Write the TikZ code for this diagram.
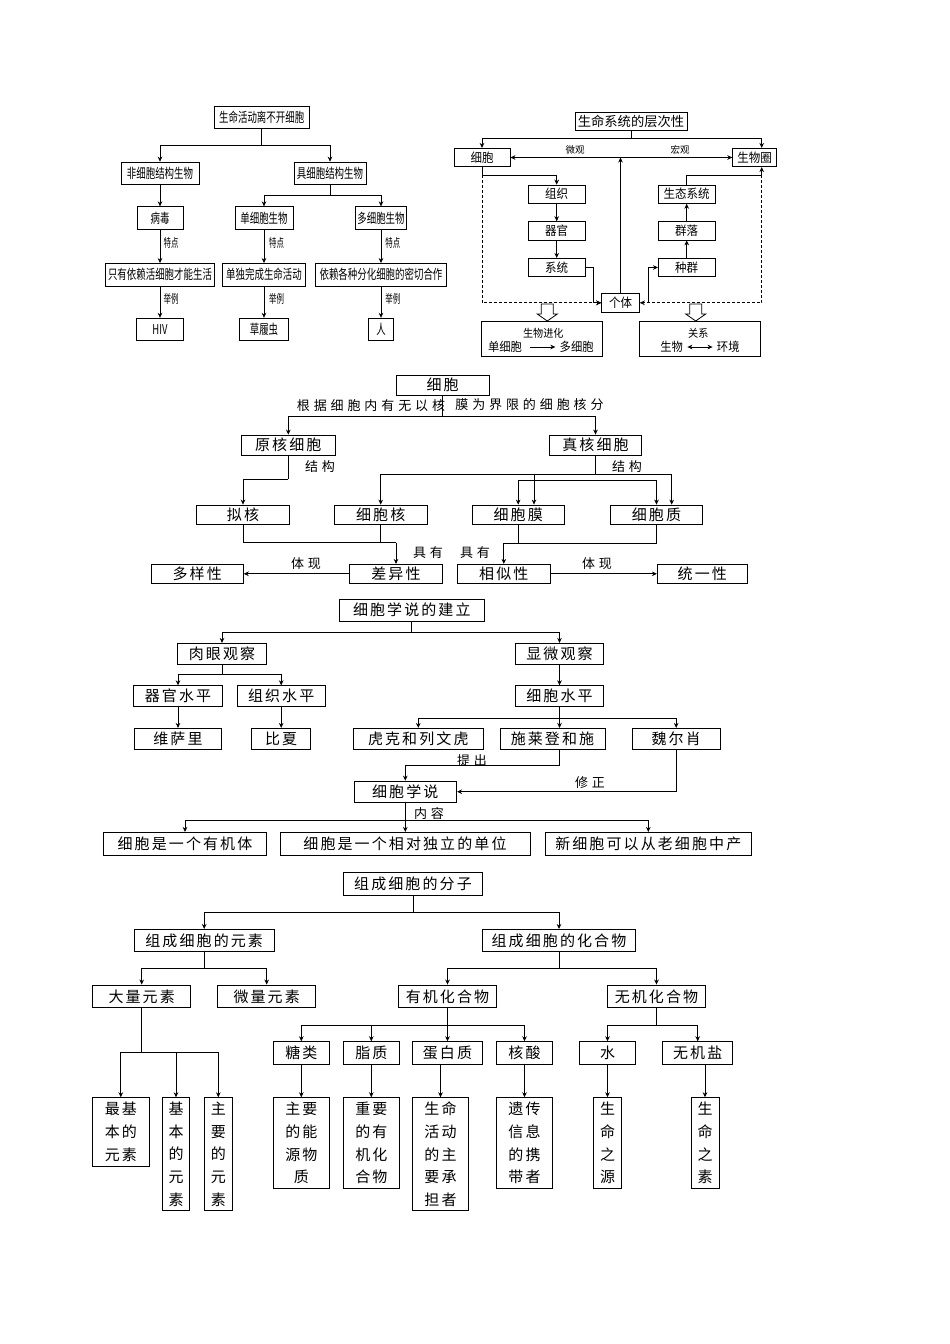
\documentclass[tikz,border=0pt]{standalone}
\usepackage{fontspec}
\setmainfont{Noto Sans CJK SC}
\newfontfamily\cjk{Noto Sans CJK SC}
\newfontfamily\cjknarrow[FakeStretch=0.7]{Noto Sans CJK SC}
\newfontfamily\cjkvnarrow[FakeStretch=0.62]{Noto Sans CJK SC}
\newfontfamily\cjkslight[FakeStretch=0.92]{Noto Sans CJK SC}
\newfontfamily\cjksp[LetterSpace=14]{Noto Sans CJK SC}
\newfontfamily\cjklab[LetterSpace=30]{Noto Sans CJK SC}
\usetikzlibrary{arrows.meta}
\begin{document}
\begin{tikzpicture}[x=1pt,y=-1pt,line width=0.8pt,
  box/.style={draw,fill=white,inner sep=0pt},
  sA/.style={box,font=\cjknarrow\fontsize{13.5}{15}\selectfont,minimum height=22.5},
  sB/.style={box,font=\cjkslight\fontsize{12.5}{14}\selectfont,minimum height=18.3},
  sC/.style={box,font=\cjksp\fontsize{15}{22.7}\selectfont,align=center},
  lA/.style={inner sep=0pt,font=\cjkvnarrow\fontsize{12}{13}\selectfont},
  lB/.style={inner sep=0pt,font=\cjk\fontsize{9.5}{11}\selectfont},
  lC/.style={inner sep=0pt,font=\cjklab\fontsize{13}{15}\selectfont},
  tB/.style={inner sep=0pt,font=\cjkslight\fontsize{12.3}{13}\selectfont},
  arr/.style={-{Stealth[length=5pt,width=4.6pt,inset=1.6pt]}},
  arr2/.style={{Stealth[length=5pt,width=4.6pt,inset=1.6pt]}-{Stealth[length=5pt,width=4.6pt,inset=1.6pt]}},
  dsh/.style={dash pattern=on 3pt off 2pt}]
\fill[white] (0,0) rectangle (950,1344);
\useasboundingbox (0,0) rectangle (950,1344);

% ===== Section 1 (top-left) =====
\node[sA,minimum width=95,minimum height=22] (A0) at (261.7,117) {生命活动离不开细胞};
\node[sA,minimum width=78] (A1) at (160,173.3) {非细胞结构生物};
\node[sA,minimum width=72] (A2) at (330,173.3) {具细胞结构生物};
\node[sA,minimum width=46] (A3) at (160,218) {病毒};
\node[sA,minimum width=58] (A4) at (264,218) {单细胞生物};
\node[sA,minimum width=51] (A5) at (381,218) {多细胞生物};
\node[sA,minimum width=109] (A6) at (160,274.7) {只有依赖活细胞才能生活};
\node[sA,minimum width=83] (A7) at (264,274.7) {单独完成生命活动};
\node[sA,minimum width=130.7] (A8) at (381,274.7) {依赖各种分化细胞的密切合作};
\node[sA,minimum width=47,minimum height=22] (A9) at (160,329.2) {HIV};
\node[sA,minimum width=49,minimum height=22] (A10) at (264,329.2) {草履虫};
\node[sA,minimum width=25,minimum height=22] (A11) at (381,329.2) {人};
\coordinate (jA0) at (261.7,145);
\draw (A0) -- (jA0);
\draw[arr] (jA0) -| (A1);
\draw[arr] (jA0) -| (A2);
\draw[arr] (A1) -- (A3);
\coordinate (jA1) at (330,195);
\draw (A2) -- (jA1);
\draw[arr] (jA1) -| (A4);
\draw[arr] (jA1) -| (A5);
\draw[arr] (A3) -- (A6); \draw[arr] (A6) -- (A9);
\draw[arr] (A4) -- (A7); \draw[arr] (A7) -- (A10);
\draw[arr] (A5) -- (A8); \draw[arr] (A8) -- (A11);
\node[lA] (tA1) at (171,243.3) {特点};
\node[lA] (tA2) at (276.5,243.3) {特点};
\node[lA] (tA3) at (392.8,243.3) {特点};
\node[lA] (tA4) at (171,299.3) {举例};
\node[lA] (tA5) at (276.5,299.3) {举例};
\node[lA] (tA6) at (392.8,299.3) {举例};

% ===== Section 2 (top-right) =====
\node[sB,minimum width=112,minimum height=18,font=\cjk\fontsize{13.3}{14}\selectfont] (B0) at (631,121.2) {生命系统的层次性};
\node[sB,minimum width=56] (B1) at (482,157.5) {细胞};
\node[sB,minimum width=44] (B2) at (754.7,157.5) {生物圈};
\node[sB,minimum width=56.7] (B3) at (556.7,194.2) {组织};
\node[sB,minimum width=56.7] (B4) at (556.7,230.8) {器官};
\node[sB,minimum width=56.7] (B5) at (556.7,267.5) {系统};
\node[sB,minimum width=37.7,minimum height=19] (B6) at (620.5,302.8) {个体};
\node[sB,minimum width=56.7] (B7) at (686.7,194.2) {生态系统};
\node[sB,minimum width=56.7] (B8) at (686.7,230.8) {群落};
\node[sB,minimum width=56.7] (B9) at (686.7,267.5) {种群};
\node[box,minimum width=121,minimum height=35.7] (B10) at (542.2,338.8) {};
\node[box,minimum width=120.7,minimum height=35.7] (B11) at (699.7,338.8) {};
\node[lB,font=\cjkslight\fontsize{11}{12}\selectfont] (B10t) at (543.3,333.5) {生物进化};
\node[tB] (B10a) at (505,347) {单细胞};
\node[tB] (B10b) at (576.7,347) {多细胞};
\draw[arr,shorten <=7.5pt,shorten >=4pt,line width=0.7pt] (B10a) -- (B10b);
\node[lB,font=\cjkslight\fontsize{11}{12}\selectfont] (B11t) at (698.3,333.5) {关系};
\node[tB] (B11a) at (671.7,347) {生物};
\node[tB] (B11b) at (728.3,347) {环境};
\draw[arr2,shorten <=4pt,shorten >=4pt,line width=0.7pt] (B11a) -- (B11b);
\coordinate (jB0) at (631,138.3);
\draw (B0) -- (jB0);
\draw[arr] (jB0) -| (B1);
\draw[arr] (jB0) -| ([xshift=7pt]B2.north);
\draw[arr2] (B1) -- (B2);
\node[lB] (mB1) at (575,149.5) {微观};
\node[lB] (mB2) at (680,149.5) {宏观};
\draw[arr] (B6.north) -- (B6.north |- B1.east);
\coordinate (cl) at (482,175);
\draw[arr] (B1.south) -- (cl) -| (B3.north);
\draw[arr] (B3) -- (B4);
\draw[arr] (B4) -- (B5);
\draw[arr] (B5.east) -- ++(8.3,0) |- (B6.west);
\draw[dsh,arr] (cl) |- (B6.west);
\coordinate (cr) at (761.7,175);
\draw[arr] (B7.north) |- (cr) -- ([xshift=7pt]B2.south);
\draw[dsh,arr] (cr) |- (B6.east);
\coordinate (ci) at (648.3,302.8);
\draw[arr] (ci) |- (B9.west);
\draw[arr] (B9) -- (B8);
\draw[arr] (B8) -- (B7);
\foreach \cx in {547.3,695.7} {
  \draw[fill=white] (\cx-6,304) -- (\cx+6,304) -- (\cx+6,314) -- (\cx+10,314) -- (\cx,321) -- (\cx-10,314) -- (\cx-6,314) -- cycle;
}

% ===== Section 3 (cell types) =====
\node[sC,minimum width=93.3,minimum height=20] (C0) at (442.7,385) {细胞};
\node[lC,anchor=east] (C0l) at (445.5,406) {根据细胞内有无以核};
\node[lC,anchor=west] (C0r) at (455,405) {膜为界限的细胞核分};
\node[sC,minimum width=93.3,minimum height=20] (C1) at (288.3,445) {原核细胞};
\node[sC,minimum width=92.3,minimum height=20] (C2) at (595.5,445) {真核细胞};
\coordinate (j3) at (442.7,416);
\draw (C0) -- (j3);
\draw[arr] (j3) -| (C1);
\draw[arr] (j3) -| (C2);
\node[sC,minimum width=92.7,minimum height=19] (C3) at (243,514.5) {拟核};
\node[sC,minimum width=93.3,minimum height=19] (C4) at (380.7,514.5) {细胞核};
\node[sC,minimum width=91.7,minimum height=19] (C5) at (518.2,514.5) {细胞膜};
\node[sC,minimum width=91.7,minimum height=19] (C6) at (656.5,514.5) {细胞质};
\coordinate (j4) at (288.3,479.3);
\draw (C1) -- (j4);
\draw[arr] (j4) -| (C3);
\coordinate (j5) at (595.5,474.3);
\draw (C2) -- (j5);
\draw[arr] (j5) -| (C4);
\draw[arr] (j5) -| ([xshift=15.8pt]C5.north);
\draw[arr] (j5) -| ([xshift=15.2pt]C6.north);
\coordinate (s1) at (518.2,480.3);
\coordinate (s2) at (656.5,480.3);
\draw (s1) -- (s2);
\draw[arr] (s1) -- (C5.north);
\draw[arr] (s2) -- (C6.north);
\node[lC] (k1) at (320,466.7) {结构};
\node[lC] (k2) at (627,466.7) {结构};
\node[sC,minimum width=93.3,minimum height=19] (C7) at (396,573.8) {差异性};
\node[sC,minimum width=92.3,minimum height=19] (C8) at (197.2,573.8) {多样性};
\node[sC,minimum width=92.3,minimum height=19] (C9) at (503.8,573.8) {相似性};
\node[sC,minimum width=90,minimum height=19] (C10) at (702.3,573.8) {统一性};
\coordinate (j6) at (396,542.7);
\draw (C3.south) |- (j6);
\draw (C4.south) -- (C4.south |- j6);
\draw[arr] (j6) -- (C7.north);
\coordinate (j7) at (503.8,543.3);
\draw (C6.south) |- (j7);
\draw (C5.south) -- (C5.south |- j7);
\draw[arr] (j7) -- (C9.north);
\node[lC] (h1) at (428,552.7) {具有};
\node[lC] (h2) at (475,552.7) {具有};
\draw[arr] (C7) -- (C8);
\draw[arr] (C9) -- (C10);
\node[lC] (v1) at (306,564) {体现};
\node[lC] (v2) at (597,564) {体现};

% ===== Section 4 (cell theory) =====
\node[sC,minimum width=145,minimum height=22] (D0) at (411.8,610) {细胞学说的建立};
\node[sC,minimum width=89.3,minimum height=21] (D1) at (222,653.8) {肉眼观察};
\node[sC,minimum width=87.7,minimum height=21] (D2) at (559.5,653.8) {显微观察};
\coordinate (j8) at (411.8,632.3);
\draw (D0) -- (j8);
\draw[arr] (j8) -| (D1);
\draw[arr] (j8) -| (D2);
\node[sC,minimum width=89.3,minimum height=21] (D3) at (178,696.2) {器官水平};
\node[sC,minimum width=87.7,minimum height=21] (D4) at (281.2,696.2) {组织水平};
\coordinate (j9) at (222,674.3);
\draw (D1) -- (j9);
\draw[arr] (j9) -| (D3);
\draw[arr] (j9) -| (D4);
\node[sC,minimum width=87.7,minimum height=21] (D5) at (178,738.8) {维萨里};
\node[sC,minimum width=59,minimum height=21] (D6) at (281.2,738.8) {比夏};
\draw[arr] (D3) -- (D5);
\draw[arr] (D4) -- (D6);
\node[sC,minimum width=87.7,minimum height=21] (D7) at (559.5,696.2) {细胞水平};
\draw[arr] (D2) -- (D7);
\node[sC,minimum width=130,minimum height=21] (D8) at (418.3,738.8) {虎克和列文虎};
\node[sC,minimum width=105,minimum height=21] (D9) at (552.5,738.8) {施莱登和施};
\node[sC,minimum width=87.7,minimum height=21] (D10) at (676.2,738.8) {魏尔肖};
\coordinate (j10) at (559.5,718.3);
\draw (D7) -- (j10);
\draw[arr] (j10) -| (D8);
\draw[arr] (j10) -- (j10 |- D9.north);
\draw[arr] (j10) -| (D10);
\node[sC,minimum width=102.7,minimum height=21.3] (D11) at (405.3,791.7) {细胞学说};
\coordinate (j11) at (405.3,765.7);
\draw[arr] ([xshift=6.8pt]D9.south) |- (j11) -- (D11.north);
\node[lC] (p1) at (472,760.5) {提出};
\draw[arr] (D10.south) |- (D11.east);
\node[lC] (p2) at (590,783) {修正};
\node[sC,minimum width=163.3,minimum height=23.3] (D12) at (185,844) {细胞是一个有机体};
\node[sC,minimum width=250,minimum height=23.3] (D13) at (405,844) {细胞是一个相对独立的单位};
\node[sC,minimum width=206.7,minimum height=23.3] (D14) at (648.3,844) {新细胞可以从老细胞中产};
\coordinate (j12) at (405.3,820);
\draw (D11) -- (j12);
\draw[arr] (j12) -| (D12);
\draw[arr] (j12) -- (D13.north -| j12);
\draw[arr] (j12) -| (D14);
\node[lC] (p3) at (429,814) {内容};

% ===== Section 5 (molecules) =====
\node[sC,minimum width=139.3,minimum height=22.3] (E0) at (413,883.8) {组成细胞的分子};
\node[sC,minimum width=139.7,minimum height=22.3] (E1) at (204.2,940.5) {组成细胞的元素};
\node[sC,minimum width=153.3,minimum height=22.3] (E2) at (559,940.5) {组成细胞的化合物};
\coordinate (j13) at (413,912.3);
\draw (E0) -- (j13);
\draw[arr] (j13) -| (E1);
\draw[arr] (j13) -| (E2);
\node[sC,minimum width=98,minimum height=22.7] (E3) at (141.7,996.3) {大量元素};
\node[sC,minimum width=98,minimum height=22.7] (E4) at (266.7,996.3) {微量元素};
\coordinate (j14) at (204.2,968.3);
\draw (E1) -- (j14);
\draw[arr] (j14) -| (E3);
\draw[arr] (j14) -| (E4);
\node[sC,minimum width=98.3,minimum height=22.7] (E5) at (447.5,996.3) {有机化合物};
\node[sC,minimum width=98.3,minimum height=22.7] (E6) at (656.5,996.3) {无机化合物};
\coordinate (j15) at (559,968.3);
\draw (E2) -- (j15);
\draw[arr] (j15) -| (E5);
\draw[arr] (j15) -| (E6);
\node[sC,minimum width=56.3,minimum height=68.3] (E7) at (120.8,1131.8) {最基\\本的\\元素};
\node[sC,minimum width=26.7,minimum height=113] (E8) at (176,1154.2) {基\\本\\的\\元\\素};
\node[sC,minimum width=28.7,minimum height=113] (E9) at (218.3,1154.2) {主\\要\\的\\元\\素};
\coordinate (j16) at (141.7,1052.7);
\draw (E3) -- (j16);
\draw[arr] (j16) -| (E7);
\draw[arr] (j16) -| (E8);
\draw[arr] (j16) -| (E9);
\node[sC,minimum width=56,minimum height=22.3] (E10) at (301.3,1052.8) {糖类};
\node[sC,minimum width=56,minimum height=22.3] (E11) at (371.3,1052.8) {脂质};
\node[sC,minimum width=69.7,minimum height=22.3] (E12) at (447.5,1052.8) {蛋白质};
\node[sC,minimum width=55.7,minimum height=22.3] (E13) at (524.5,1052.8) {核酸};
\coordinate (j17) at (447.5,1025);
\draw (E5) -- (j17);
\draw[arr] (j17) -| (E10);
\draw[arr] (j17) -| (E11);
\draw[arr] (j17) -- (E12);
\draw[arr] (j17) -| (E13);
\node[sC,minimum width=56.3,minimum height=22.3] (E14) at (607.5,1052.8) {水};
\node[sC,minimum width=70,minimum height=22.3] (E15) at (697.7,1052.8) {无机盐};
\coordinate (j18) at (656.5,1025);
\draw (E6) -- (j18);
\draw[arr] (j18) -| (E14);
\draw[arr] (j18) -| (E15);
\node[sC,minimum width=56,minimum height=90.7] (E16) at (301.3,1143) {主要\\的能\\源物\\质};
\node[sC,minimum width=56,minimum height=90.7] (E17) at (371.3,1143) {重要\\的有\\机化\\合物};
\node[sC,minimum width=55.7,minimum height=113] (E18) at (440.5,1154.2) {生命\\活动\\的主\\要承\\担者};
\node[sC,minimum width=55.7,minimum height=90.7] (E19) at (524.5,1143) {遗传\\信息\\的携\\带者};
\node[sC,minimum width=28.3,minimum height=90.7] (E20) at (607.5,1143) {生\\命\\之\\源};
\node[sC,minimum width=28,minimum height=90.7] (E21) at (705,1143) {生\\命\\之\\素};
\draw[arr] (E10) -- (E16);
\draw[arr] (E11) -- (E17);
\draw[arr] (E12.south -| E18.north) -- (E18.north);
\draw[arr] (E13) -- (E19);
\draw[arr] (E14) -- (E20);
\draw[arr] (E15.south -| E21.north) -- (E21.north);
\end{tikzpicture}
\end{document}
